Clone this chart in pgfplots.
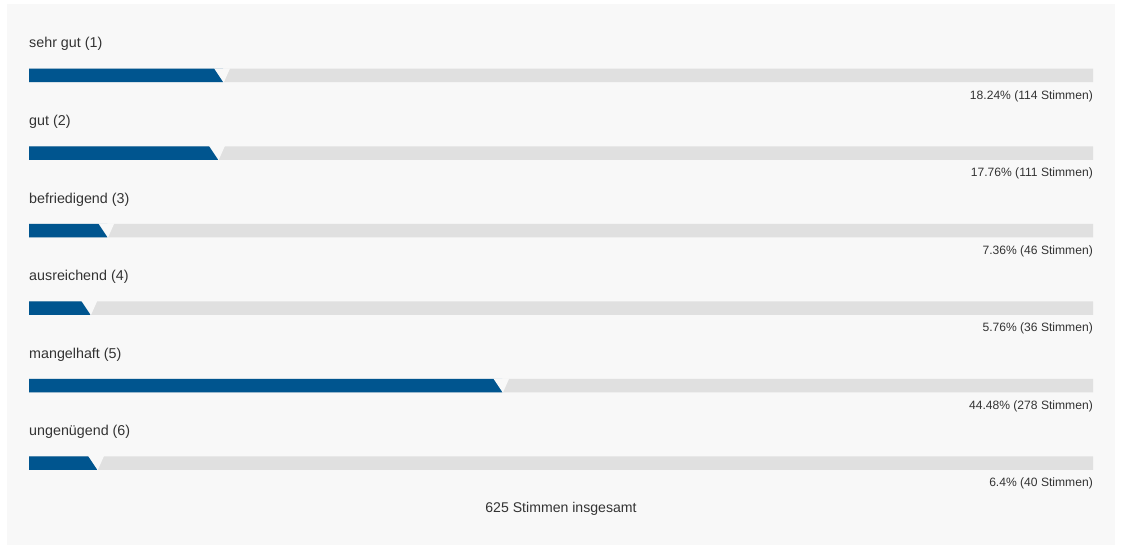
\documentclass[border=0pt]{standalone}
\usepackage{fontspec}
\setmainfont{Liberation Sans}
\usepackage{pgfplots}
\pgfplotsset{compat=1.18}
\definecolor{barblue}{RGB}{0,85,143}
\definecolor{track}{RGB}{224,224,224}
\definecolor{panelbg}{RGB}{248,248,248}
\definecolor{txt}{RGB}{51,51,51}
\pgfdeclareplotmark{notch}{%
  \pgfsetfillcolor{panelbg}%
  \pgfpathmoveto{\pgfpoint{-9bp}{7.2bp}}%
  \pgfpathlineto{\pgfpoint{7bp}{7.2bp}}%
  \pgfpathlineto{\pgfpoint{0.6bp}{-7.2bp}}%
  \pgfpathclose
  \pgfusepathqfill}
\tikzset{
  catlab/.style={anchor=base west, text=txt, font=\fontsize{14.3bp}{16bp}\selectfont, inner sep=0pt},
  pctlab/.style={anchor=base east, text=txt, font=\fontsize{12.1bp}{14bp}\selectfont, inner sep=0pt},
}
\begin{document}
\begin{tikzpicture}
\begin{axis}[
  scale only axis, width=1122bp, height=546bp,
  xmin=-2.72556, xmax=102.72556,
  ymin=0, ymax=546, y dir=reverse,
  hide axis, clip=false,
]
\fill[white] (axis cs:-2.72556,0) rectangle (axis cs:102.72556,546);
\fill[panelbg] (axis cs:-2.0677,4) rectangle (axis cs:102.068,545);
% grey tracks (100%)
\addplot[xbar, bar shift=0pt, bar width=13.5, draw=none, fill=track] coordinates {
 (100,75.5) (100,153) (100,230.5) (100,308) (100,385.5) (100,463)};
% results
\addplot[xbar, bar shift=0pt, bar width=13.5, draw=none, fill=barblue] coordinates {
 (18.24,75.5) (17.76,153) (7.36,230.5) (5.76,308) (44.48,385.5) (6.4,463)};
% slanted gap at the end of each result bar
\addplot[only marks, mark=notch] coordinates {
 (18.24,75.5) (17.76,153) (7.36,230.5) (5.76,308) (44.48,385.5) (6.4,463)};
\node[catlab] at (axis cs:0,48) {sehr gut (1)};
\node[catlab] at (axis cs:0,125.5) {gut (2)};
\node[catlab] at (axis cs:0,203) {befriedigend (3)};
\node[catlab] at (axis cs:0,280.5) {ausreichend (4)};
\node[catlab] at (axis cs:0,358) {mangelhaft (5)};
\node[catlab] at (axis cs:0,435.5) {ungenügend (6)};
\node[pctlab] at (axis cs:100,99) {18.24\% (114 Stimmen)};
\node[pctlab] at (axis cs:100,176.5) {17.76\% (111 Stimmen)};
\node[pctlab] at (axis cs:100,254) {7.36\% (46 Stimmen)};
\node[pctlab] at (axis cs:100,331.5) {5.76\% (36 Stimmen)};
\node[pctlab] at (axis cs:100,409) {44.48\% (278 Stimmen)};
\node[pctlab] at (axis cs:100,486.5) {6.4\% (40 Stimmen)};
\node[anchor=base, text=txt, font=\fontsize{14.1bp}{16bp}\selectfont, inner sep=0pt] at (axis cs:50,512) {625 Stimmen insgesamt};
\end{axis}
\end{tikzpicture}
\end{document}
